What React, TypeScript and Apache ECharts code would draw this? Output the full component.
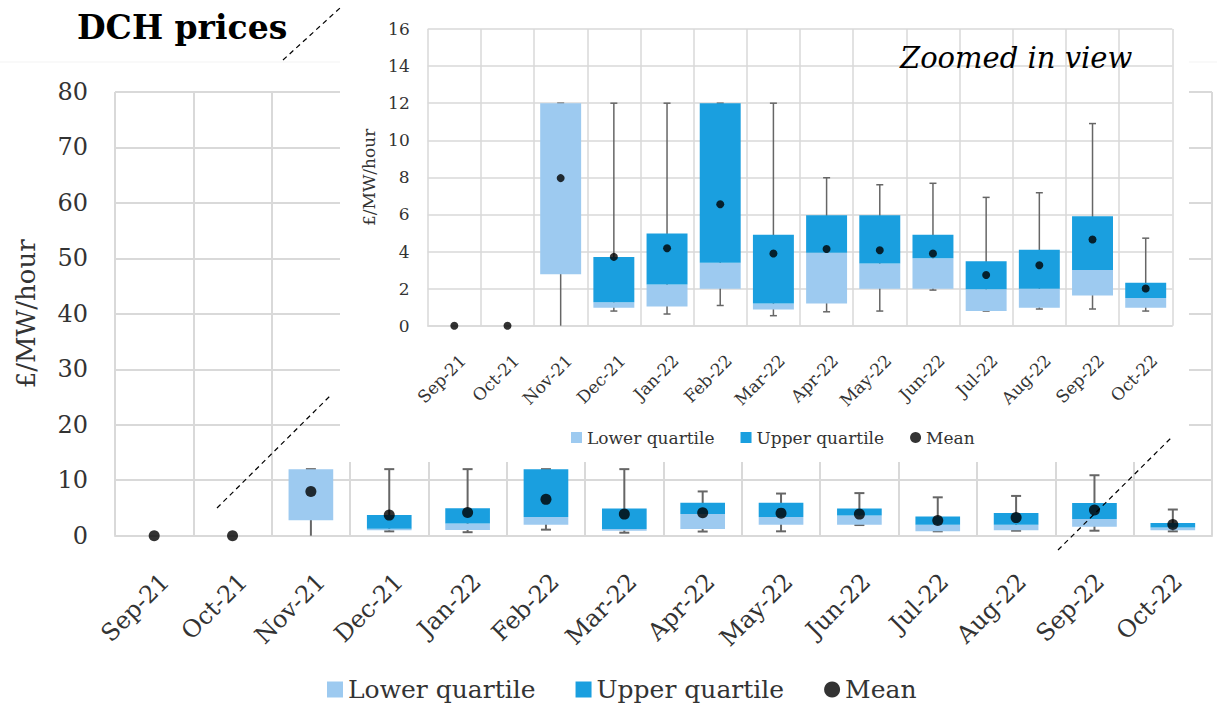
import React, { useEffect, useRef } from "react";
import * as echarts from "echarts";

const categories = ["Sep-21", "Oct-21", "Nov-21", "Dec-21", "Jan-22", "Feb-22", "Mar-22", "Apr-22", "May-22", "Jun-22", "Jul-22", "Aug-22", "Sep-22", "Oct-22"];
const q1Values = [0, 0, 2.78, 0.97, 1.04, 1.99, 0.88, 1.2, 1.99, 1.99, 0.79, 0.97, 1.63, 0.97];
const medianValues = [0, 0, 12, 1.27, 2.22, 3.39, 1.2, 3.93, 3.35, 3.64, 1.96, 1.99, 3.0, 1.49];
const q3Values = [0, 0, 12, 3.71, 4.97, 12, 4.91, 5.96, 5.96, 4.91, 3.48, 4.09, 5.9, 2.31];
const minValues = [0, 0, 0, 0.79, 0.63, 1.09, 0.54, 0.75, 0.79, 1.92, 0.79, 0.9, 0.9, 0.79];
const maxValues = [0, 0, 12, 12, 12, 12, 12, 7.98, 7.6, 7.68, 6.92, 7.17, 10.9, 4.72];
const meanValues = [0, 0, 7.96, 3.71, 4.18, 6.55, 3.89, 4.14, 4.07, 3.89, 2.73, 3.26, 4.65, 2.01];

const FONT = "DejaVu Serif";
const LIGHT = "#9dcaf0";
const DARK = "#1a9fdf";
const GRID = "#d9d9d9";
const TXT = "#333333";

function whiskerSeries(name: string, axisIdx: number, capW: number, lw: number, z: number) {
  return {
    type: "custom",
    name,
    xAxisIndex: axisIdx,
    yAxisIndex: axisIdx,
    z,
    silent: true,
    encode: { x: 0, y: [1, 2] },
    data: categories.map((c, i) => [i, minValues[i], maxValues[i]]),
    renderItem: (params: any, api: any) => {
      const i = api.value(0);
      const lo = api.value(1);
      const hi = api.value(2);
      if (hi === lo) return null;
      const pLo = api.coord([i, lo]);
      const pHi = api.coord([i, hi]);
      const style = { stroke: "#666666", lineWidth: lw };
      const children: any[] = [
        { type: "line", shape: { x1: pLo[0], y1: pLo[1], x2: pHi[0], y2: pHi[1] }, style },
        { type: "line", shape: { x1: pHi[0] - capW / 2, y1: pHi[1], x2: pHi[0] + capW / 2, y2: pHi[1] }, style },
      ];
      if (lo > 0) {
        children.push({ type: "line", shape: { x1: pLo[0] - capW / 2, y1: pLo[1], x2: pLo[0] + capW / 2, y2: pLo[1] }, style });
      }
      return { type: "group", children };
    },
  };
}

function boxSeries(axisIdx: number, barWidth: string, z: number, stack: string) {
  return [
    {
      type: "bar",
      name: "base",
      stack,
      xAxisIndex: axisIdx,
      yAxisIndex: axisIdx,
      barWidth,
      z,
      silent: true,
      itemStyle: { color: "rgba(0,0,0,0)" },
      data: q1Values,
    },
    {
      type: "bar",
      name: "Lower quartile",
      stack,
      xAxisIndex: axisIdx,
      yAxisIndex: axisIdx,
      barWidth,
      z,
      itemStyle: { color: LIGHT },
      data: medianValues.map((m, i) => +(m - q1Values[i]).toFixed(3)),
    },
    {
      type: "bar",
      name: "Upper quartile",
      stack,
      xAxisIndex: axisIdx,
      yAxisIndex: axisIdx,
      barWidth,
      z,
      itemStyle: { color: DARK },
      data: q3Values.map((q, i) => +(q - medianValues[i]).toFixed(3)),
    },
  ];
}

function meanSeries(axisIdx: number, size: number, z: number) {
  return {
    type: "scatter",
    name: "Mean",
    xAxisIndex: axisIdx,
    yAxisIndex: axisIdx,
    symbol: "circle",
    symbolSize: size,
    z,
    itemStyle: { color: "#000000" },
    data: meanValues,
  };
}

const legendData = [
  { name: "Lower quartile", icon: "rect" },
  { name: "Upper quartile", icon: "rect" },
  { name: "Mean", icon: "circle" },
];

export default function App() {
  const ref = useRef<HTMLDivElement>(null);
  useEffect(() => {
    if (!ref.current) return;
    const chart = echarts.init(ref.current, undefined, { renderer: "svg" });
    const option: any = {
      animation: false,
      backgroundColor: "#ffffff",
      textStyle: { fontFamily: FONT },
      title: [
        {
          text: "DCH prices",
          left: 72,
          top: 6,
          z: 25,
          textStyle: { fontFamily: FONT, fontWeight: "bold", fontSize: 33, color: "#000" },
        },
        {
          text: "Zoomed in view",
          left: 895,
          top: 38,
          z: 25,
          textStyle: { fontFamily: FONT, fontStyle: "italic", fontWeight: "normal", fontSize: 29, color: "#000" },
        },
      ],
      legend: [
        {
          data: legendData,
          left: 322,
          top: 672,
          itemWidth: 16,
          itemHeight: 16,
          itemGap: 40,
          z: 5,
          selectedMode: false,
          textStyle: { fontFamily: FONT, fontSize: 25, color: TXT },
        },
        {
          data: legendData,
          left: 566,
          top: 424,
          itemWidth: 11,
          itemHeight: 11,
          itemGap: 26,
          z: 25,
          selectedMode: false,
          textStyle: { fontFamily: FONT, fontSize: 17, color: TXT },
        },
      ],
      grid: [
        { left: 115, right: 5, top: 92, bottom: 169.3 },
        { left: 427.7, right: 44.7, top: 29, bottom: 379.3 },
        { left: 126.3, right: -6.3, top: 92, bottom: 169.3 },
        { left: 436.3, right: 36.1, top: 29, bottom: 379.3 },
      ],
      xAxis: [
        {
          type: "category",
          gridIndex: 0,
          data: categories,
          z: 0,
          axisLine: { show: true, lineStyle: { color: GRID, width: 2 } },
          axisTick: { show: false },
          axisLabel: { show: false },
          splitLine: { show: true, interval: 0, lineStyle: { color: GRID, width: 2 } },
        },
        {
          type: "category",
          gridIndex: 1,
          data: categories,
          z: 20,
          axisLine: { show: true, lineStyle: { color: GRID, width: 1.5 } },
          axisTick: { show: false },
          axisLabel: { show: false },
          splitLine: { show: true, interval: 0, lineStyle: { color: GRID, width: 1.5 } },
        },
        {
          type: "category",
          gridIndex: 2,
          data: categories,
          z: 5,
          axisLine: { show: false },
          axisTick: { show: false },
          splitLine: { show: false },
          axisLabel: { show: true, interval: 0, rotate: 45, margin: 42, fontFamily: FONT, fontSize: 24, color: TXT },
        },
        {
          type: "category",
          gridIndex: 3,
          data: categories,
          z: 25,
          axisLine: { show: false },
          axisTick: { show: false },
          splitLine: { show: false },
          axisLabel: { show: true, interval: 0, rotate: 45, margin: 32, fontFamily: FONT, fontSize: 17, color: TXT },
        },
      ],
      yAxis: [
        {
          type: "value",
          gridIndex: 0,
          min: 0,
          max: 80,
          interval: 10,
          z: 0,
          name: "£/MW/hour",
          nameLocation: "middle",
          nameGap: 76,
          nameTextStyle: { fontFamily: FONT, fontSize: 26, color: TXT },
          axisLine: { show: false },
          axisTick: { show: false },
          axisLabel: { margin: 27, fontFamily: FONT, fontSize: 24, color: TXT },
          splitLine: { show: true, lineStyle: { color: GRID, width: 2 } },
        },
        {
          type: "value",
          gridIndex: 1,
          min: 0,
          max: 16,
          interval: 2,
          z: 20,
          name: "£/MW/hour",
          nameLocation: "middle",
          nameGap: 50,
          nameTextStyle: { fontFamily: FONT, fontSize: 17, color: TXT },
          axisLine: { show: false },
          axisTick: { show: false },
          axisLabel: { margin: 18, fontFamily: FONT, fontSize: 17, color: TXT },
          splitLine: { show: true, lineStyle: { color: GRID, width: 1.5 } },
        },
        { type: "value", gridIndex: 2, show: false, min: 0, max: 80 },
        { type: "value", gridIndex: 3, show: false, min: 0, max: 16 },
      ],
      graphic: {
        elements: [
          { type: "rect", z: 10, silent: true, shape: { x: 340, y: 0, width: 849, height: 462 }, style: { fill: "#ffffff" } },
          { type: "line", z: 11, silent: true, shape: { x1: 0, y1: 62, x2: 340, y2: 62 }, style: { stroke: "#f3f3f3", lineWidth: 1 } },
          { type: "line", z: 11, silent: true, shape: { x1: 1189, y1: 62, x2: 1217, y2: 62 }, style: { stroke: "#f3f3f3", lineWidth: 1 } },
          { type: "line", z: 30, silent: true, shape: { x1: 283, y1: 60, x2: 340, y2: 8 }, style: { stroke: "#000", lineWidth: 1.2, lineDash: [5, 4] } },
          { type: "line", z: 30, silent: true, shape: { x1: 217, y1: 508, x2: 331, y2: 395 }, style: { stroke: "#000", lineWidth: 1.2, lineDash: [5, 4] } },
          { type: "line", z: 30, silent: true, shape: { x1: 1058, y1: 550, x2: 1172, y2: 437 }, style: { stroke: "#000", lineWidth: 1.2, lineDash: [5, 4] } },
        ],
      },
      series: [
        whiskerSeries("whiskerMain", 0, 10, 2, 1),
        ...boxSeries(0, "57%", 2, "main"),
        meanSeries(0, 11, 3),
        whiskerSeries("whiskerInset", 1, 7, 1.5, 21),
        ...boxSeries(1, "77%", 22, "inset"),
        meanSeries(1, 8, 23),
      ],
    };
    chart.setOption(option);
    return () => chart.dispose();
  }, []);
  return (
    <div style={{ position: "fixed", left: 0, top: 0, width: 1217, height: 705 }}>
      <div ref={ref} style={{ width: 1217, height: 705 }} />
    </div>
  );
}
